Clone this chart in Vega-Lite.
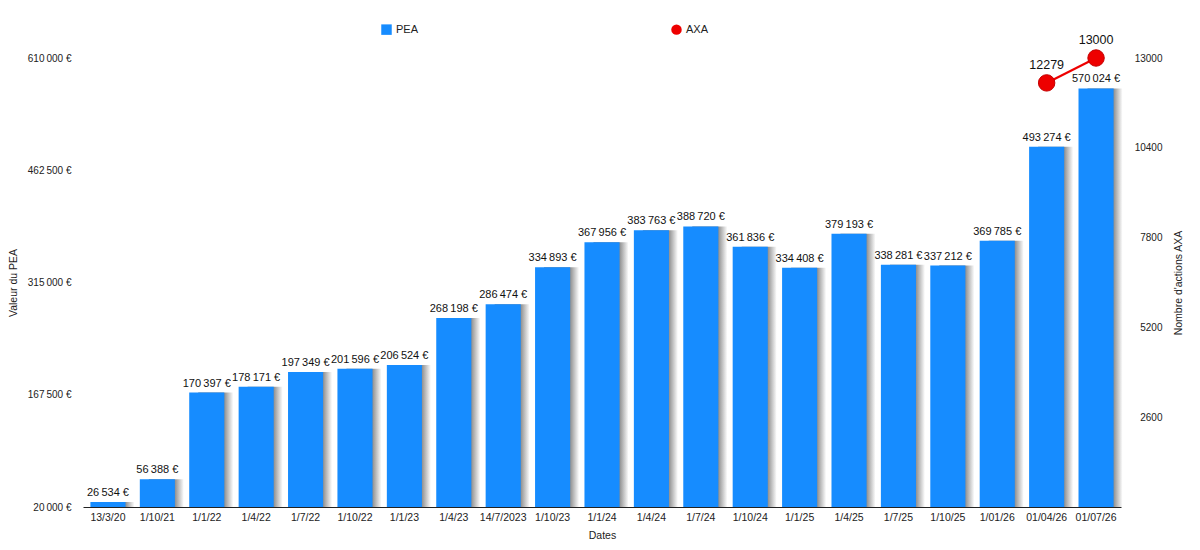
{
  "$schema": "https://vega.github.io/schema/vega-lite/v6.json",
  "width": 1038,
  "height": 449,
  "autosize": {"type": "none"},
  "padding": {"left": 83, "top": 58, "right": 79, "bottom": 43},
  "background": "white",
  "config": {
    "font": "Liberation Sans",
    "view": {"stroke": null},
    "locale": {
      "number": {"decimal": ",", "thousands": "\u202f", "grouping": [3], "currency": ["", " €"]}
    },
    "axis": {"labelColor": "#222", "titleColor": "#222", "titleFontWeight": "normal", "labelFont": "Liberation Sans", "titleFont": "Liberation Sans"}
  },
  "data": {
    "values": [
      {"date": "13/3/20", "pea": 26534},
      {"date": "1/10/21", "pea": 56388},
      {"date": "1/1/22", "pea": 170397},
      {"date": "1/4/22", "pea": 178171},
      {"date": "1/7/22", "pea": 197349},
      {"date": "1/10/22", "pea": 201596},
      {"date": "1/1/23", "pea": 206524},
      {"date": "1/4/23", "pea": 268198},
      {"date": "14/7/2023", "pea": 286474},
      {"date": "1/10/23", "pea": 334893},
      {"date": "1/1/24", "pea": 367956},
      {"date": "1/4/24", "pea": 383763},
      {"date": "1/7/24", "pea": 388720},
      {"date": "1/10/24", "pea": 361836},
      {"date": "1/1/25", "pea": 334408},
      {"date": "1/4/25", "pea": 379193},
      {"date": "1/7/25", "pea": 338281},
      {"date": "1/10/25", "pea": 337212},
      {"date": "1/01/26", "pea": 369785},
      {"date": "01/04/26", "pea": 493274, "axa": 12279},
      {"date": "01/07/26", "pea": 570024, "axa": 13000}
    ]
  },
  "encoding": {
    "x": {
      "field": "date", "type": "nominal", "sort": null,
      "scale": {"paddingInner": 0.29, "paddingOuter": 0.15},
      "axis": {"title": "Dates", "labelAngle": 0, "labelFontSize": 10.5, "titleFontSize": 10.5, "ticks": false, "domainColor": "#222", "domainWidth": 1.2, "labelPadding": 5, "titlePadding": 8, "zindex": 1}
    }
  },
  "layer": [
    {
      "layer": [
        {
          "mark": {"type": "bar", "xOffset": 9, "color": {"gradient": "linear", "x1": 0, "x2": 1, "y1": 0, "y2": 0, "stops": [{"offset": 0, "color": "#555555"}, {"offset": 0.72, "color": "#666666"}, {"offset": 1, "color": "#ffffff"}]}, "opacity": 0.8},
          "encoding": {
            "y": {"field": "pea", "type": "quantitative"},
            "y2": {"datum": 20000}
          }
        },
        {
          "mark": {"type": "bar", "color": "#168cff"},
          "encoding": {
            "y": {"field": "pea", "type": "quantitative"},
            "y2": {"datum": 20000},
            "color": {
              "datum": "PEA", "type": "nominal",
              "scale": {"domain": ["PEA", "AXA"], "range": ["#168cff", "#ee0000"]},
              "legend": {
                "title": null, "orient": "none", "direction": "horizontal", "legendX": 298, "legendY": -34,
                "columnPadding": 252, "labelFontSize": 11, "labelColor": "#222", "symbolSize": 110,
                "encode": {"symbols": {"update": {"shape": {"signal": "datum.value === 'AXA' ? 'circle' : 'square'"}, "strokeWidth": {"value": 0}}}}
              }
            }
          }
        },
        {
          "mark": {"type": "text", "baseline": "bottom", "dy": -4, "fontSize": 11, "color": "#111"},
          "encoding": {
            "y": {"field": "pea", "type": "quantitative"},
            "text": {"field": "pea", "type": "quantitative", "format": "$,.0f"}
          }
        }
      ],
      "encoding": {
        "y": {
          "field": "pea", "type": "quantitative",
          "scale": {"domain": [20000, 610000], "nice": false, "zero": false},
          "axis": {"title": "Valeur du PEA", "orient": "left", "values": [20000, 167500, 315000, 462500, 610000], "format": "$,.0f", "grid": false, "ticks": false, "domain": false, "labelFontSize": 10, "titleFontSize": 10.5, "labelPadding": 12, "titlePadding": 9}
        }
      }
    },
    {
      "transform": [{"filter": "datum.axa != null"}],
      "layer": [
        {
          "mark": {"type": "line", "color": "#ee0000", "strokeWidth": 2.2},
          "encoding": {"y": {"field": "axa", "type": "quantitative"}}
        },
        {
          "mark": {"type": "point", "filled": true, "size": 270, "color": "#ee0000", "stroke": "#c40000", "strokeWidth": 1, "opacity": 1},
          "encoding": {"y": {"field": "axa", "type": "quantitative"}}
        },
        {
          "mark": {"type": "text", "baseline": "bottom", "dy": -11, "fontSize": 12.5, "fontWeight": 500, "color": "#111"},
          "encoding": {
            "y": {"field": "axa", "type": "quantitative"},
            "text": {"field": "axa", "type": "quantitative", "format": "d"}
          }
        }
      ],
      "encoding": {
        "y": {
          "field": "axa", "type": "quantitative",
          "scale": {"domain": [0, 13000], "nice": false},
          "axis": {"title": "Nombre d'actions AXA", "orient": "right", "values": [2600, 5200, 7800, 10400, 13000], "format": "d", "grid": false, "ticks": false, "domain": false, "labelFontSize": 10, "titleFontSize": 10.5, "labelAlign": "right", "labelPadding": 41, "titleAngle": 270, "titlePadding": 21}
        }
      }
    }
  ],
  "resolve": {"scale": {"y": "independent"}}
}
